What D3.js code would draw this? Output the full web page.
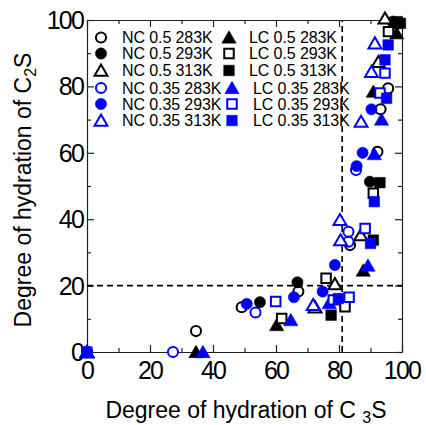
<!DOCTYPE html>
<html>
<head>
<meta charset="utf-8">
<script src="https://cdnjs.cloudflare.com/ajax/libs/d3/7.8.5/d3.min.js"></script>
<style>
  body { margin: 0; background: #fff; }
  svg { font-family: "Liberation Sans", Arial, sans-serif; }
</style>
</head>
<body>
<div id="my_dataviz"></div>
<script>
// series data: [C3S hydration, C2S hydration]
var nc05_283 = [[0, 0], [34.6, 6.3], [49.1, 13.5], [67.1, 18.2], [83.5, 32.2], [92.2, 60.3], [93.2, 73.1], [95.6, 79.4], [98, 99]];
var nc05_293 = [[0, 0], [54.9, 15], [66.8, 21], [89.8, 51.3], [97, 99.5], [99, 99]];
var nc05_313 = [[0, 0], [72.4, 13.5], [78.7, 20.5], [86.9, 35.2], [92.5, 87.4], [94.6, 100.5]];
var nc035_283 = [[0, 0], [27.3, 0], [53.5, 11.9], [83, 33.2], [83, 36.2], [85.4, 54.8]];
var nc035_293 = [[0, 0], [50.7, 14.5], [65.7, 16.5], [74.8, 18.2], [78.7, 26.2], [85.6, 56], [87.5, 60], [90.3, 73.1]];
var nc035_313 = [[0, 0], [71.8, 14.2], [80.5, 33.7], [80.3, 39.8], [87, 69.4], [90.3, 84.4], [91.4, 93]];
var lc05_283 = [[0, 0], [34.6, 0], [60.2, 8.1], [87.7, 24.5], [90.9, 78.4], [98.3, 96]];
var lc05_293 = [[61.8, 10.1], [75.9, 22.2], [81.9, 13.6], [90.9, 47.8], [95.7, 96.5]];
var lc05_313 = [[77.5, 11.1], [90.9, 33.7], [93, 51], [98.5, 99.5], [99.5, 99]];
var lc035_283 = [[0, 0], [36.8, 0], [64.7, 9.6], [76.9, 14.7], [89.2, 26], [91.2, 59.6], [93.5, 70]];
var lc035_293 = [[59.9, 15.2], [78.2, 15.7], [83.2, 16.5], [88.3, 37.2], [93, 78], [94.6, 84]];
var lc035_313 = [[0, 0], [79.8, 16.1], [90, 32.7], [91.2, 45.3], [95.1, 76.4], [94.6, 88], [95.6, 92.5]];

var seriesNames = ["NC 0.5 283K", "NC 0.5 293K", "NC 0.5 313K", "NC 0.35 283K", "NC 0.35 293K", "NC 0.35 313K",
                   "LC 0.5 283K", "LC 0.5 293K", "LC 0.5 313K", "LC 0.35 283K", "LC 0.35 293K", "LC 0.35 313K"];
var seriesData = [nc05_283, nc05_293, nc05_313, nc035_283, nc035_293, nc035_313,
                  lc05_283, lc05_293, lc05_313, lc035_283, lc035_293, lc035_313];
var seriesShape = ["circle", "circle", "triangle", "circle", "circle", "triangle",
                   "triangle", "square", "square", "triangle", "square", "square"];
var seriesFilled = [false, true, false, false, true, false, true, false, true, true, false, true];
var seriesColor = ["#000", "#000", "#000", "#00f", "#00f", "#00f", "#000", "#000", "#000", "#00f", "#00f", "#00f"];

var xTicks = [0, 20, 40, 60, 80, 100];
var yTicks = [0, 20, 40, 60, 80, 100];
var xCut = 81, yCut = 20;

var W = 426, H = 425;
var margin = { top: 20, right: 24, bottom: 73, left: 87 },
    width = W - margin.left - margin.right,
    height = H - margin.top - margin.bottom;

var root = d3.select("#my_dataviz").append("svg")
    .attr("width", W).attr("height", H);
var svg = root.append("g")
    .attr("transform", "translate(" + margin.left + "," + margin.top + ")");

var x = d3.scaleLinear().domain([0, 100]).range([0, width]);
var y = d3.scaleLinear().domain([0, 100]).range([height, 0]);

// frame with inward ticks, long at multiples of 20
var minorVals = d3.range(0, 101, 10);
function styleAxis(g, horizontal, sign) {
    g.select(".domain").attr("stroke", "#222").attr("stroke-width", 1.2);
    g.selectAll(".tick line").each(function (d) {
        var len = (d % 20 === 0) ? 7 : 4;
        if (horizontal) d3.select(this).attr("y2", sign * len);
        else d3.select(this).attr("x2", sign * len);
    }).attr("stroke", "#222").attr("stroke-width", 1.2);
}

svg.append("g").attr("transform", "translate(0," + height + ")")
    .call(d3.axisBottom(x).tickValues(minorVals).tickFormat("").tickSizeOuter(0))
    .call(styleAxis, true, -1);
svg.append("g")
    .call(d3.axisTop(x).tickValues(minorVals).tickFormat("").tickSizeOuter(0))
    .call(styleAxis, true, 1);
svg.append("g")
    .call(d3.axisLeft(y).tickValues(minorVals).tickFormat("").tickSizeOuter(0))
    .call(styleAxis, false, 1);
svg.append("g").attr("transform", "translate(" + width + ",0)")
    .call(d3.axisRight(y).tickValues(minorVals).tickFormat("").tickSizeOuter(0))
    .call(styleAxis, false, -1);

// tick labels
svg.selectAll("xLabels").data(xTicks).enter().append("text")
    .attr("x", function (d) { return x(d); })
    .attr("y", height + 27)
    .attr("text-anchor", "middle")
    .style("font-size", "25px").style("letter-spacing", "-1.8px")
    .text(function (d) { return d; });
svg.selectAll("yLabels").data(yTicks).enter().append("text")
    .attr("x", -4)
    .attr("y", function (d) { return y(d); })
    .attr("dy", "0.36em")
    .attr("text-anchor", "end")
    .style("font-size", "25px").style("letter-spacing", "-1.8px")
    .text(function (d) { return d; });

// dashed guide lines
svg.append("line")
    .attr("x1", x(xCut)).attr("x2", x(xCut))
    .attr("y1", y(0)).attr("y2", y(100))
    .attr("stroke", "#000").attr("stroke-width", 1.6).attr("stroke-dasharray", "6,4");
svg.append("line")
    .attr("x1", x(0)).attr("x2", x(100))
    .attr("y1", y(yCut)).attr("y2", y(yCut))
    .attr("stroke", "#000").attr("stroke-width", 1.6).attr("stroke-dasharray", "6,4");

// markers
var symType = { circle: d3.symbolCircle, square: d3.symbolSquare, triangle: d3.symbolTriangle };
var symSize = { circle: 80, square: 90, triangle: 72 };
function drawMark(g, i, px, py) {
    var filled = seriesFilled[i], c = seriesColor[i], sh = seriesShape[i];
    var sz = filled ? symSize[sh] * 1.25 : symSize[sh];
    var dyOff = sh === "triangle" ? 1.5 : 0;
    g.append("path")
        .attr("d", d3.symbol().type(symType[sh]).size(sz)())
        .attr("transform", "translate(" + px + "," + (py + dyOff) + ")")
        .attr("fill", filled ? c : "#fff")
        .attr("stroke", c)
        .attr("stroke-width", filled ? 0.5 : 2);
}

var marks = svg.append("g");
seriesData.forEach(function (arr, i) {
    arr.forEach(function (d) { drawMark(marks, i, x(d[0]), y(d[1])); });
});

// legend
var legend = root.append("g");
var rowY = [37.5, 53.5, 70.5, 88, 104, 120.5];
seriesNames.forEach(function (name, i) {
    var col = i < 6 ? 0 : 1, row = i % 6;
    var sx = col === 0 ? 101 : (row < 3 ? 229 : 232);
    var tx = col === 0 ? 122 : (row < 3 ? 249 : 253);
    drawMark(legend, i, sx, rowY[row]);
    legend.append("text")
        .attr("x", tx).attr("y", rowY[row]).attr("dy", "0.36em")
        .style("font-size", "16px").style("letter-spacing", "-0.1px")
        .text(name);
});

// axis titles
var xt = root.append("text")
    .attr("x", 246).attr("y", 418)
    .attr("text-anchor", "middle")
    .style("font-size", "23px");
xt.append("tspan").text("Degree of hydration of C ");
xt.append("tspan").attr("dy", 5).style("font-size", "16px").text("3");
xt.append("tspan").attr("dy", -5).text("S");

var yt = root.append("text")
    .attr("transform", "translate(31,190) rotate(-90)")
    .attr("text-anchor", "middle")
    .style("font-size", "23px");
yt.append("tspan").text("Degree of hydration of C");
yt.append("tspan").attr("dy", 5).style("font-size", "16px").text("2");
yt.append("tspan").attr("dy", -5).text("S");
</script>
</body>
</html>
